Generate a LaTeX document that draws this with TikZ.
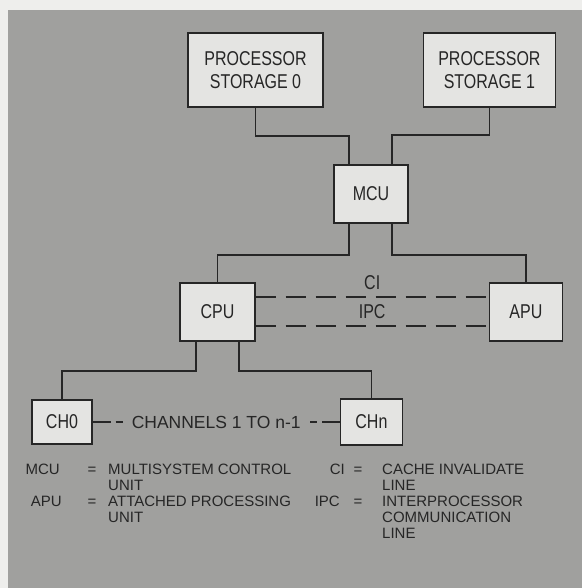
\documentclass[tikz,border=0pt]{standalone}
\usepackage{fontspec}
\setmainfont{Liberation Sans}[FakeStretch=0.8]
\newfontfamily\legendfont{Liberation Sans}
\usepackage{tikz}
\usetikzlibrary{positioning}
\definecolor{paper}{RGB}{238,238,236}
\definecolor{panel}{RGB}{160,160,158}
\definecolor{boxfill}{RGB}{228,228,226}
\definecolor{ink}{RGB}{38,38,38}

\begin{document}
\begin{tikzpicture}[
  x=1pt, y=-1pt,
  box/.style={draw=ink, fill=boxfill, line width=1.4pt, inner sep=2pt,
              font=\fontsize{20}{23}\selectfont, text=ink, align=center},
  wire/.style={draw=ink, line width=1.8pt},
  dashwire/.style={draw=ink, line width=1.8pt, dash pattern=on 20pt off 10pt},
  chanwire/.style={draw=ink, line width=1.8pt, dash pattern=on 18pt off 5pt on 7pt off 30pt},
  lbl/.style={font=\fontsize{20}{23}\selectfont, text=ink, inner sep=2pt},
  key/.style={font=\legendfont\fontsize{15}{16}\selectfont, text=ink, inner sep=0pt, align=left},
]
  \fill[paper] (0,0) rectangle (582,588);
  \fill[panel] (8,10) rectangle (582,588);

  \node[box, minimum width=135pt, minimum height=74pt] (ps0) at (255.5,70) {PROCESSOR\\STORAGE 0};
  \node[box, minimum width=132pt, minimum height=74pt, right=99pt of ps0] (ps1) {PROCESSOR\\STORAGE 1};
  \node[box, minimum width=74pt, minimum height=58pt] (mcu) at (371,194) {MCU};
  \node[box, minimum width=75pt, minimum height=58pt] (cpu) at (217.5,312) {CPU};
  \node[box, minimum width=73pt, minimum height=58pt, right=233pt of cpu] (apu) {APU};
  \node[box, minimum width=60pt, minimum height=44pt] (ch0) at (62,422) {CH0};
  \node[box, minimum width=62pt, minimum height=46pt, right=247pt of ch0] (chn) {CHn};

  \draw[wire] (ps0.south) -- ++(0,28) -| ([xshift=-22pt]mcu.north);
  \draw[wire] (ps1.south) -- ++(0,27) -| ([xshift=21pt]mcu.north);
  \draw[wire] ([xshift=-22pt]mcu.south) -- ++(0,31) -| (cpu.north);
  \draw[wire] ([xshift=21pt]mcu.south) -- ++(0,31) -| (apu.north);
  \draw[wire] ([xshift=-21.5pt]cpu.south) -- ++(0,29) -| (ch0.north);
  \draw[wire] ([xshift=21.5pt]cpu.south) -- ++(0,29) -| (chn.north);

  \draw[dashwire] ([yshift=15pt]cpu.east) -- node[lbl, above=4pt] (ci) {CI} ([yshift=15pt]apu.west);
  \draw[dashwire] ([yshift=-14pt]cpu.east) -- node[lbl, above=4pt] (ipc) {IPC} ([yshift=-14pt]apu.west);

  \path (ch0) -- node[lbl, font=\legendfont\fontsize{17.5}{20}\selectfont, fill=panel, inner sep=3pt] (chan) {CHANNELS 1 TO n-1} (chn);
  \draw[chanwire] (ch0) -- (chan);
  \draw[chanwire] (chn) -- (chan);

  \node[key, anchor=base east] (mcuk) at (60,474) {MCU};
  \node[key, anchor=base] (mcueq) at (92,474) {=};
  \node[key, anchor=base west] (mcud) at (108,490) {MULTISYSTEM CONTROL\\UNIT};
  \node[key, anchor=base east] (apuk) at (62,506) {APU};
  \node[key, anchor=base] (apueq) at (92,506) {=};
  \node[key, anchor=base west] (apud) at (108,522) {ATTACHED PROCESSING\\UNIT};
  \node[key, anchor=base east] (cik) at (345,474) {CI};
  \node[key, anchor=base] (cieq) at (358,474) {=};
  \node[key, anchor=base west] (cid) at (382,490) {CACHE INVALIDATE\\LINE};
  \node[key, anchor=base east] (ipck) at (340,506) {IPC};
  \node[key, anchor=base] (ipceq) at (358,506) {=};
  \node[key, anchor=base west] (ipcd) at (382,538) {INTERPROCESSOR\\COMMUNICATION\\LINE};
\end{tikzpicture}
\end{document}
